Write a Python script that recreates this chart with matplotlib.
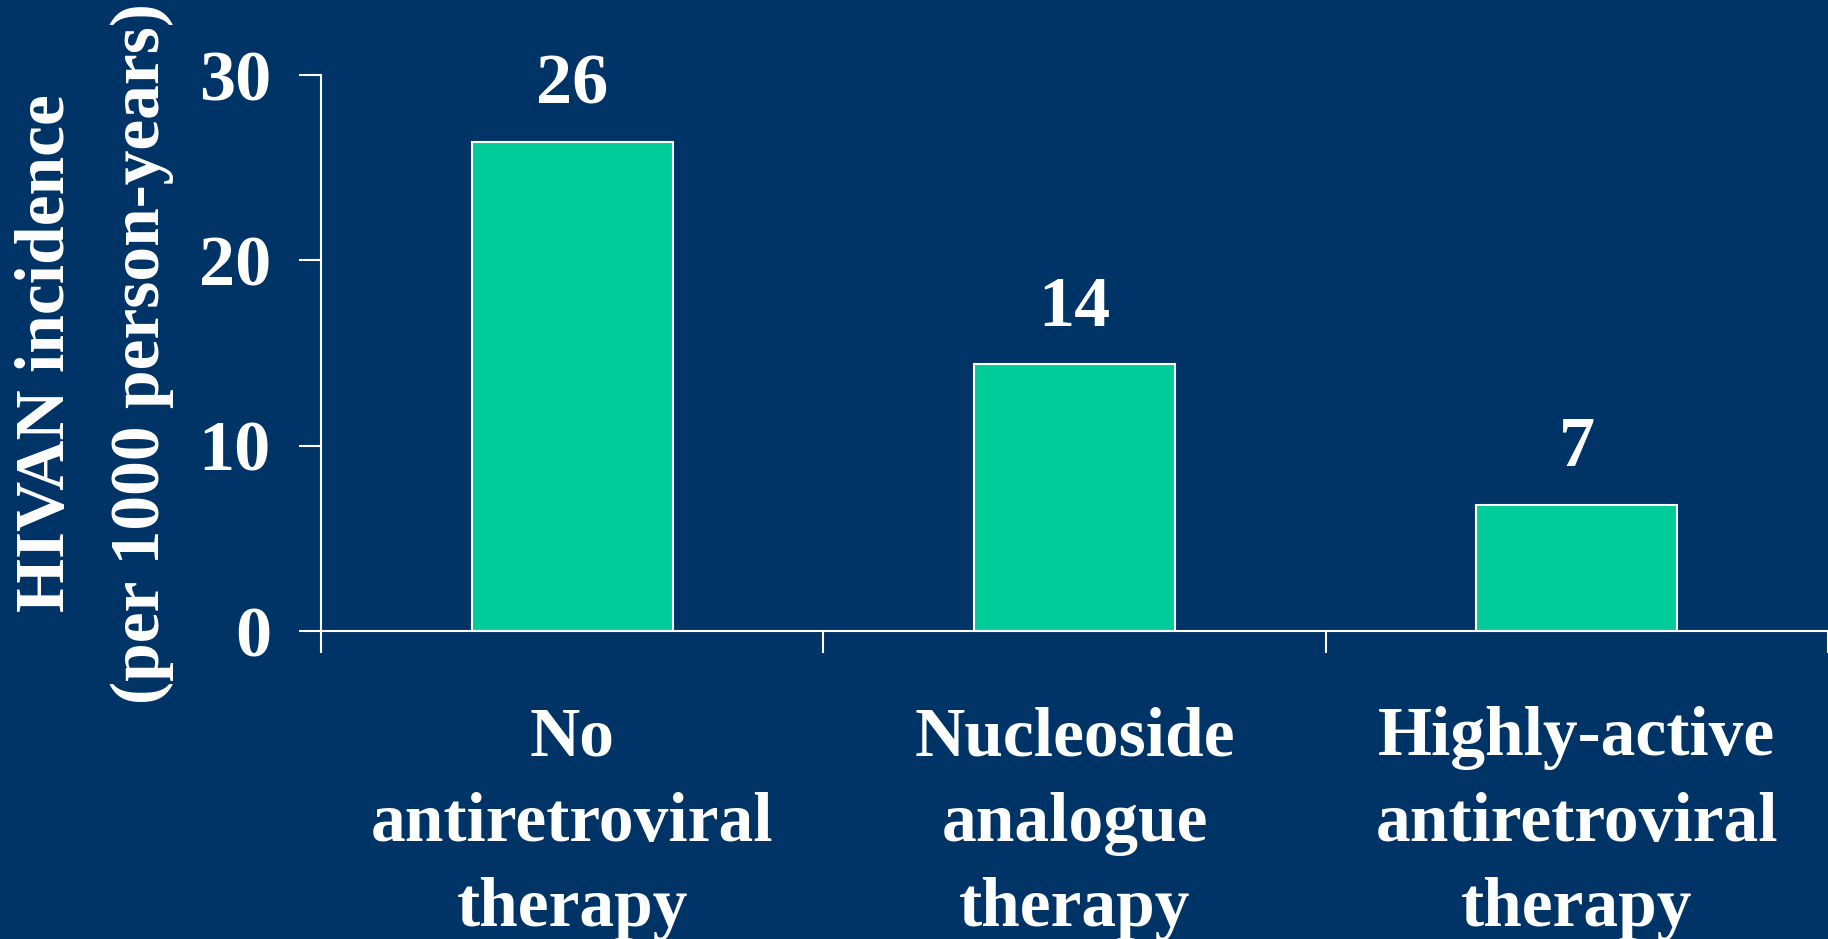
import matplotlib.pyplot as plt

# HIVAN incidence by treatment group
categories = ['No\nantiretroviral\ntherapy',
              'Nucleoside\nanalogue\ntherapy',
              'Highly-active\nantiretroviral\ntherapy']
incidence = [26.4, 14.4, 6.8]
y_ticks = [0, 10, 20, 30]

bg = '#003366'
bar_color = '#00CC99'

plt.rcParams['font.family'] = ['Liberation Serif', 'DejaVu Serif']
plt.rcParams['font.weight'] = 'bold'

fig = plt.figure(figsize=(18.28, 9.39), dpi=100, facecolor=bg)
ax = fig.add_axes([0.1756, 0.328, 0.8244, 0.592])
ax.set_facecolor(bg)

centers = [i + 0.5 for i in range(len(categories))]
bars = ax.bar(centers, incidence, width=0.4, color=bar_color,
              edgecolor='white', linewidth=1.5, zorder=2)

# value labels above each bar
for b, v in zip(bars, incidence):
    ax.annotate('%d' % round(v), (b.get_x() + b.get_width() / 2, v),
                xytext=(0, 17), textcoords='offset points',
                ha='center', va='bottom', color='white',
                fontsize=52, fontweight='bold')

ax.set_xlim(0, 2.987)
ax.set_ylim(0, 30)
ax.set_yticks(y_ticks)
ax.set_yticklabels([str(t) for t in y_ticks])

# separators between groups as major ticks, labels on minor ticks
ax.set_xticks([0, 1, 2, 3])
ax.set_xticklabels([])
ax.set_xticks(centers, minor=True)
ax.set_xticklabels(categories, minor=True, linespacing=1.44)

for s in ['top', 'right']:
    ax.spines[s].set_visible(False)
for s in ['left', 'bottom']:
    ax.spines[s].set_color('white')
    ax.spines[s].set_linewidth(1.5)

ax.tick_params(axis='y', which='major', direction='out', length=16, width=1.5,
               color='white', labelcolor='white', labelsize=52, pad=20)
ax.tick_params(axis='x', which='major', direction='out', length=16, width=1.5,
               color='white')
ax.tick_params(axis='x', which='minor', length=0, labelcolor='white',
               labelsize=50, pad=54)
for lbl in ax.get_yticklabels() + ax.get_xticklabels(minor=True):
    lbl.set_fontweight('bold')

ax.set_ylabel('HIVAN incidence\n(per 1000 person-years)', color='white',
              fontsize=50, fontweight='bold', labelpad=18, linespacing=1.62)

fig.savefig('out.png', dpi=100, facecolor=bg)
